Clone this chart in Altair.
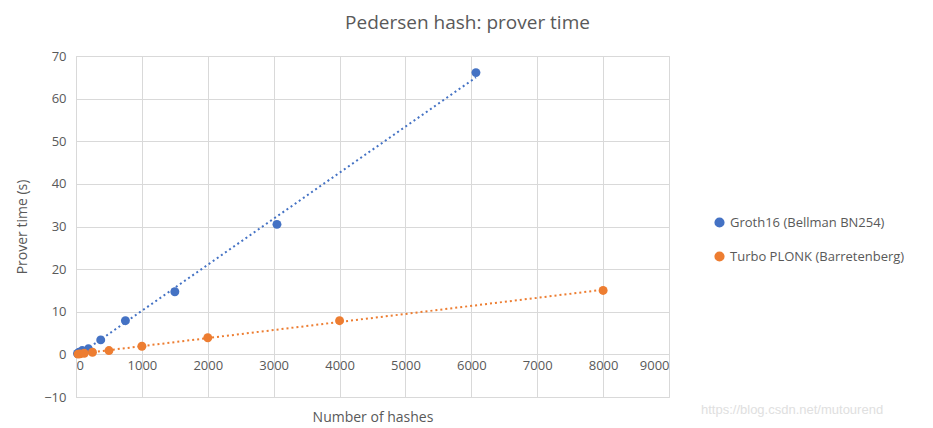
import altair as alt
import pandas as pd

groth_x = [23, 47, 94, 188, 375, 750, 1500, 3050, 6070]
groth_y = [0.2, 0.5, 0.9, 1.3, 3.4, 7.9, 14.7, 30.5, 66.1]
plonk_x = [31, 62, 125, 250, 500, 1000, 2000, 4000, 8000]
plonk_y = [0.06, 0.12, 0.25, 0.5, 0.9, 1.9, 3.9, 7.9, 15.0]
series = ["Groth16 (Bellman BN254)", "Turbo PLONK (Barretenberg)"]
colors = ["#4472C4", "#ED7D31"]

rows = [{"hashes": x, "time": y, "series": series[0]} for x, y in zip(groth_x, groth_y)]
rows += [{"hashes": x, "time": y, "series": series[1]} for x, y in zip(plonk_x, plonk_y)]
df = pd.DataFrame(rows)

W, H = 593, 341
FONT = "Open Sans"
GRAY = "#595959"

xscale = alt.Scale(domain=[0, 9000], nice=False, zero=False)
yscale = alt.Scale(domain=[-10, 70], nice=False, zero=False)
legend = alt.Legend(title=None, orient="none", legendX=637, legendY=160,
                    symbolType="circle", symbolSize=75, labelFontSize=13,
                    labelColor=GRAY, labelFont=FONT, rowPadding=19,
                    labelLimit=300)
color = alt.Color("series:N", scale=alt.Scale(domain=series, range=colors), legend=legend)

base = alt.Chart(df)

points = base.mark_circle(size=80, opacity=1).encode(
    x=alt.X("hashes:Q", scale=xscale,
            axis=alt.Axis(title="Number  of hashes", values=list(range(0, 9001, 1000)),
                          format="d",
                          offset=-H * 10 / 80 - 1, domain=False, ticks=False,
                          gridColor="#D9D9D9", labelColor=GRAY, labelFontSize=13,
                          labelFont=FONT, titleFont=FONT, titleFontSize=14,
                          titleColor=GRAY, titleFontWeight="normal", titlePadding=38,
                          labelPadding=6)),
    y=alt.Y("time:Q", scale=yscale,
            axis=alt.Axis(title="Prover time (s)", values=list(range(-10, 71, 10)),
                          domain=True, domainColor="#D9D9D9", ticks=False,
                          gridColor="#D9D9D9", labelColor=GRAY, labelFontSize=13,
                          labelFont=FONT, titleFont=FONT, titleFontSize=14,
                          titleColor=GRAY, titleFontWeight="normal", titlePadding=14,
                          labelPadding=10)),
    color=color,
)

trend = base.transform_regression("hashes", "time", groupby=["series"]).mark_line(
    strokeDash=[2, 3], strokeWidth=2
).encode(
    x=alt.X("hashes:Q", scale=xscale),
    y=alt.Y("time:Q", scale=yscale),
    color=color,
)

watermark = alt.Chart(pd.DataFrame({"t": ["https://blog.csdn.net/mutourend"]})).mark_text(
    align="left", fontSize=13, color="#E0E0E0", font="Liberation Sans"
).encode(text="t:N", x=alt.value(625), y=alt.value(354))

chart = alt.layer(trend, points, watermark).properties(
    width=W, height=H,
    title=alt.TitleParams("Pedersen hash: prover time", font=FONT, fontSize=19,
                          fontWeight="normal", color=GRAY, anchor="middle", dx=95, offset=17),
).configure_view(stroke=None).configure(padding={"left": 7, "top": 6, "right": 5, "bottom": 5})

chart.save("out.html", embed_options={"renderer": "svg", "actions": False})
